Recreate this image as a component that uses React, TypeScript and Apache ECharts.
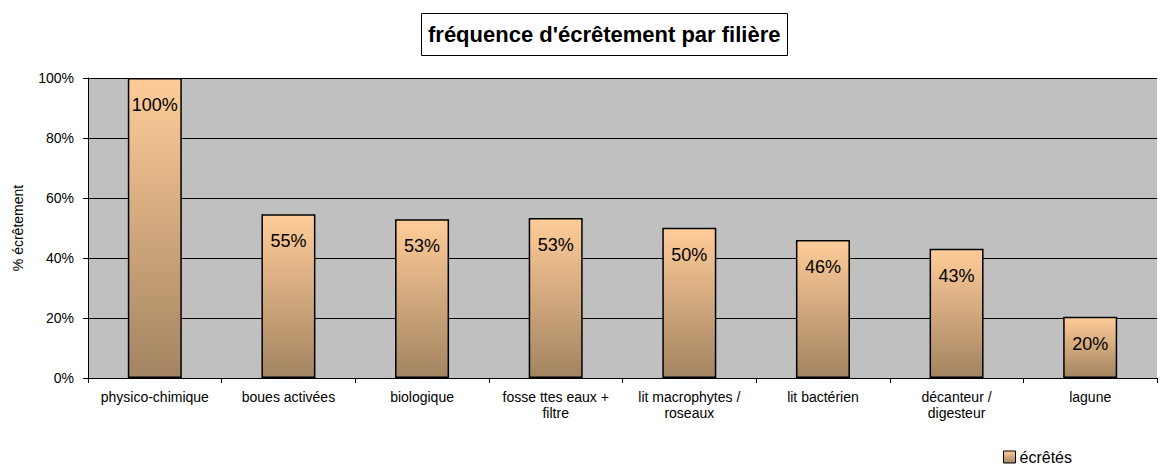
import React, { useEffect, useRef } from "react";
import * as echarts from "echarts";

const categories = [
  "physico-chimique",
  "boues activées",
  "biologique",
  "fosse ttes eaux +\nfiltre",
  "lit macrophytes /\nroseaux",
  "lit bactérien",
  "décanteur /\ndigesteur",
  "lagune",
];
const values = [1.0, 0.546, 0.529, 0.533, 0.501, 0.46, 0.431, 0.204];
const seriesName = "écrêtés";
const titleText = "fréquence d'écrêtement par filière";
const yAxisName = "% écrêtement";

export default function App() {
  const ref = useRef<HTMLDivElement>(null);
  useEffect(() => {
    document.body.style.margin = "0";
    const chart = echarts.init(ref.current!, null, { renderer: "svg" });
    const font = "'Liberation Sans', Arial, sans-serif";
    const grad = new echarts.graphic.LinearGradient(0, 0, 0, 1, [
      { offset: 0, color: "#FFCC99" },
      { offset: 1, color: "#A38461" },
    ]);
    chart.setOption({
      animation: false,
      backgroundColor: "#fff",
      title: {
        text: titleText,
        left: 421,
        top: 13,
        padding: [10, 7],
        borderColor: "#000",
        borderWidth: 1,
        textStyle: { fontFamily: font, fontSize: 22, fontWeight: "bold", color: "#000", lineHeight: 23 },
      },
      legend: {
        data: [seriesName],
        left: 1003,
        top: 448,
        padding: 0,
        icon: "rect",
        itemWidth: 12,
        itemHeight: 12,
        itemGap: 4,
        textStyle: { fontFamily: font, fontSize: 16, color: "#000", lineHeight: 18, padding: [0, 0, 0, -1] },
        itemStyle: { borderColor: "#000", borderWidth: 1 },
      },
      grid: {
        left: 88,
        right: 10,
        top: 78,
        bottom: 88,
        show: true,
        backgroundColor: "#C0C0C0",
        borderWidth: 0,
      },
      xAxis: {
        type: "category",
        data: categories,
        axisLine: { lineStyle: { color: "#000", width: 1 } },
        axisTick: { show: true, interval: 0, length: 5, lineStyle: { color: "#000" } },
        axisLabel: {
          interval: 0,
          margin: 11,
          fontFamily: font,
          fontSize: 14,
          color: "#000",
          lineHeight: 16,
        },
      },
      yAxis: {
        type: "value",
        min: 0,
        max: 1,
        interval: 0.2,
        name: yAxisName,
        nameLocation: "middle",
        nameGap: 63,
        nameRotate: 90,
        nameTextStyle: { fontFamily: font, fontSize: 14, color: "#000" },
        axisLine: { show: true, lineStyle: { color: "#000", width: 1 } },
        axisTick: { show: true, length: 5, lineStyle: { color: "#000" } },
        splitLine: { show: true, lineStyle: { color: "#000", width: 1 } },
        axisLabel: {
          margin: 14,
          fontFamily: font,
          fontSize: 14,
          color: "#000",
          formatter: (v: number) => Math.round(v * 100) + "%",
        },
      },
      series: [
        {
          name: seriesName,
          type: "bar",
          data: values,
          barWidth: 54,
          itemStyle: { color: grad, borderColor: "#000", borderWidth: 1.5 },
          label: {
            show: true,
            position: "insideTop",
            distance: 18,
            fontFamily: font,
            fontSize: 18,
            color: "#000",
            formatter: (p: any) => Math.round(p.value * 100) + "%",
          },
        },
      ],
    });
    return () => chart.dispose();
  }, []);
  return <div ref={ref} style={{ width: 1167, height: 466 }} />;
}
